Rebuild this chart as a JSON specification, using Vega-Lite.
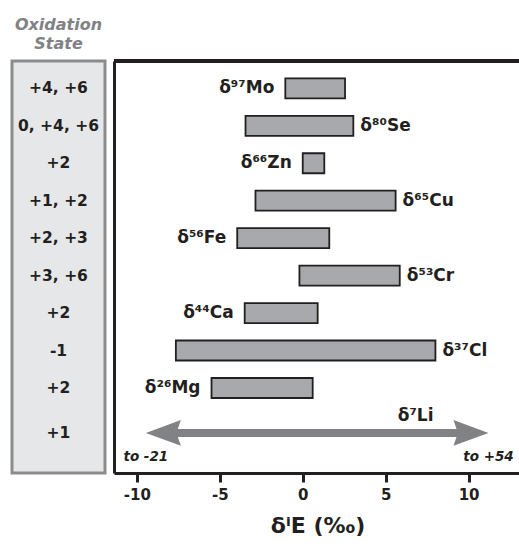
{
  "$schema": "https://vega.github.io/schema/vega-lite/v6.json",
  "padding": {"left": 10, "top": 15, "right": 0, "bottom": 0},
  "background": "white",
  "config": {"font": "DejaVu Sans", "view": {"stroke": null}},
  "datasets": {
    "isotopes": [
      {"isotope": "δ⁹⁷Mo", "ox": "+4, +6", "row": 0, "min": -1.05, "max": 2.55, "labelSide": "left", "kind": "bar"},
      {"isotope": "δ⁸⁰Se", "ox": "0, +4, +6", "row": 1, "min": -3.45, "max": 3.05, "labelSide": "right", "kind": "bar"},
      {"isotope": "δ⁶⁶Zn", "ox": "+2", "row": 2, "min": 0.0, "max": 1.3, "labelSide": "left", "kind": "bar"},
      {"isotope": "δ⁶⁵Cu", "ox": "+1, +2", "row": 3, "min": -2.85, "max": 5.6, "labelSide": "right", "kind": "bar"},
      {"isotope": "δ⁵⁶Fe", "ox": "+2, +3", "row": 4, "min": -3.95, "max": 1.6, "labelSide": "left", "kind": "bar"},
      {"isotope": "δ⁵³Cr", "ox": "+3, +6", "row": 5, "min": -0.2, "max": 5.85, "labelSide": "right", "kind": "bar"},
      {"isotope": "δ⁴⁴Ca", "ox": "+2", "row": 6, "min": -3.5, "max": 0.9, "labelSide": "left", "kind": "bar"},
      {"isotope": "δ³⁷Cl", "ox": "-1", "row": 7, "min": -7.65, "max": 8.0, "labelSide": "right", "kind": "bar"},
      {"isotope": "δ²⁶Mg", "ox": "+2", "row": 8, "min": -5.5, "max": 0.6, "labelSide": "left", "kind": "bar"},
      {"isotope": "δ⁷Li", "ox": "+1", "row": 9.2, "min": -9.46, "max": 11.2, "labelSide": "above", "kind": "arrow", "fromLabel": "to -21", "toLabel": "to +54"}
    ]
  },
  "data": {"name": "isotopes"},
  "bounds": "flush",
  "spacing": 9,
  "hconcat": [
    {
      "width": 93,
      "height": 412,
      "view": {"fill": "#e6e7e8", "stroke": "#8a8c8e", "strokeWidth": 3},
      "title": {
        "text": ["Oxidation", "State"],
        "font": "DejaVu Sans",
        "fontSize": 16,
        "fontStyle": "italic",
        "fontWeight": "bold",
        "color": "#808285",
        "anchor": "middle",
        "lineHeight": 19,
        "offset": 9
      },
      "mark": {"type": "text", "font": "DejaVu Sans", "fontWeight": "bold", "fontSize": 15.5, "color": "#231f20", "baseline": "middle"},
      "encoding": {
        "x": {"datum": 0.5, "type": "quantitative", "scale": {"domain": [0, 1]}, "axis": null},
        "y": {"field": "row", "type": "quantitative", "scale": {"domain": [-0.73, 10.27], "reverse": true, "nice": false, "zero": false, "padding": 0}, "axis": null},
        "text": {"field": "ox"}
      }
    },
    {
      "width": 407,
      "height": 412,
      "view": {"stroke": null},
      "encoding": {
        "y": {
          "field": "row", "type": "quantitative",
          "scale": {"domain": [-0.73, 10.27], "reverse": true, "nice": false, "zero": false, "padding": 0},
          "axis": {"domain": true, "domainColor": "#231f20", "domainWidth": 3, "ticks": false, "labels": false, "grid": false, "title": null}
        }
      },
      "layer": [
        {
          "mark": {"type": "rule", "strokeWidth": 3, "color": "#231f20"},
          "encoding": {"y": {"datum": -0.73}}
        },
        {
          "transform": [{"filter": "datum.kind == 'bar'"}],
          "mark": {"type": "bar", "size": 20, "fill": "#a7a9ac", "stroke": "#231f20", "strokeWidth": 1.8},
          "encoding": {
            "x": {
              "field": "min", "type": "quantitative",
              "scale": {"domain": [-11.38, 13.16], "nice": false, "zero": false, "padding": 0},
              "axis": {
                "values": [-10, -5, 0, 5, 10],
                "labelExpr": "datum.value",
                "domain": true, "domainColor": "#231f20", "domainWidth": 3,
                "ticks": true, "tickColor": "#231f20", "tickWidth": 3, "tickSize": 9,
                "labelFont": "DejaVu Sans", "labelFontWeight": "bold", "labelFontSize": 15, "labelColor": "#231f20", "labelPadding": 5,
                "grid": false,
                "title": "δⁱE (‰)", "titleFont": "DejaVu Sans", "titleFontWeight": "bold", "titleFontSize": 22, "titleColor": "#231f20", "titlePadding": 13
              }
            },
            "x2": {"field": "max"}
          }
        },
        {
          "transform": [{"filter": "datum.labelSide == 'left'"}],
          "mark": {"type": "text", "align": "right", "baseline": "middle", "dx": -11, "fontSize": 17, "fontWeight": "bold", "color": "#231f20"},
          "encoding": {"x": {"field": "min", "type": "quantitative"}, "text": {"field": "isotope"}}
        },
        {
          "transform": [{"filter": "datum.labelSide == 'right'"}],
          "mark": {"type": "text", "align": "left", "baseline": "middle", "dx": 7, "fontSize": 17, "fontWeight": "bold", "color": "#231f20"},
          "encoding": {"x": {"field": "max", "type": "quantitative"}, "text": {"field": "isotope"}}
        },
        {
          "transform": [{"filter": "datum.kind == 'arrow'"}],
          "mark": {"type": "rule", "strokeWidth": 8, "color": "#808285", "xOffset": 25, "x2Offset": -25},
          "encoding": {"x": {"field": "min", "type": "quantitative"}, "x2": {"field": "max"}}
        },
        {
          "transform": [{"filter": "datum.kind == 'arrow'"}],
          "mark": {"type": "point", "filled": true, "opacity": 1, "color": "#808285", "size": 1225, "shape": "M 0 0 L 2 -0.74 L 1.75 0 L 2 0.74 Z", "strokeWidth": 0},
          "encoding": {"x": {"field": "min", "type": "quantitative"}}
        },
        {
          "transform": [{"filter": "datum.kind == 'arrow'"}],
          "mark": {"type": "point", "filled": true, "opacity": 1, "color": "#808285", "size": 1225, "shape": "M 0 0 L -2 -0.74 L -1.75 0 L -2 0.74 Z", "strokeWidth": 0},
          "encoding": {"x": {"field": "max", "type": "quantitative"}}
        },
        {
          "transform": [{"filter": "datum.kind == 'arrow'"}],
          "mark": {"type": "text", "align": "right", "baseline": "middle", "dx": -55, "dy": -17, "fontSize": 17, "fontWeight": "bold", "color": "#231f20"},
          "encoding": {"x": {"field": "max", "type": "quantitative"}, "text": {"field": "isotope"}}
        },
        {
          "transform": [{"filter": "datum.kind == 'arrow'"}],
          "mark": {"type": "text", "align": "center", "baseline": "middle", "dy": 24, "fontSize": 13.5, "fontWeight": "bold", "fontStyle": "italic", "color": "#231f20"},
          "encoding": {"x": {"field": "min", "type": "quantitative"}, "text": {"field": "fromLabel"}}
        },
        {
          "transform": [{"filter": "datum.kind == 'arrow'"}],
          "mark": {"type": "text", "align": "center", "baseline": "middle", "dy": 24, "fontSize": 13.5, "fontWeight": "bold", "fontStyle": "italic", "color": "#231f20"},
          "encoding": {"x": {"field": "max", "type": "quantitative"}, "text": {"field": "toLabel"}}
        }
      ]
    }
  ]
}
